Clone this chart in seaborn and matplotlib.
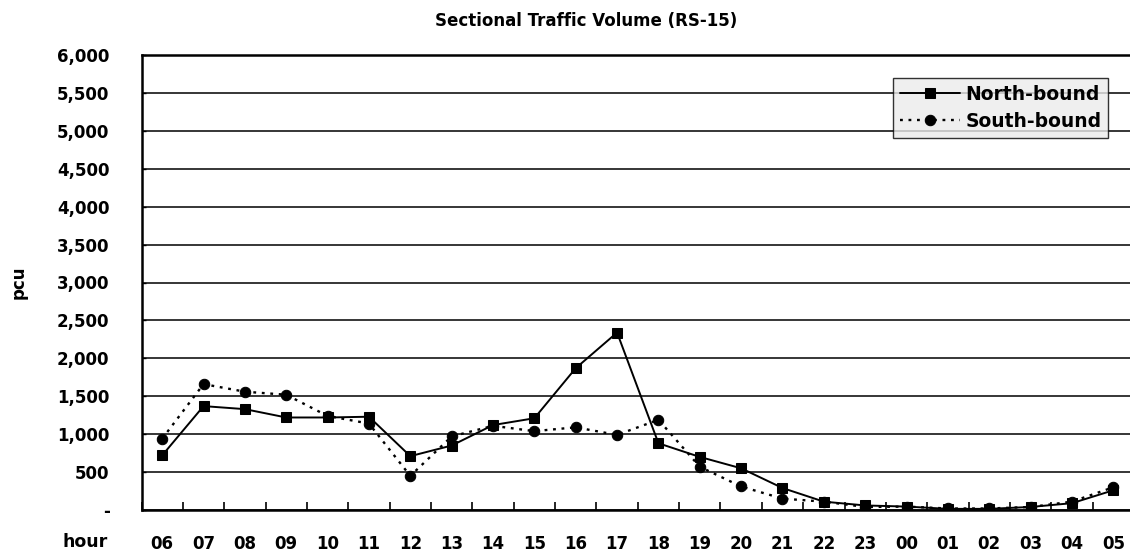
import matplotlib
matplotlib.use("Agg")
import matplotlib.pyplot as plt
import matplotlib.ticker as mticker
import seaborn as sns
import pandas as pd
import numpy as np

hours = ["06", "07", "08", "09", "10", "11", "12", "13", "14", "15", "16", "17",
         "18", "19", "20", "21", "22", "23", "00", "01", "02", "03", "04", "05"]
north = [720, 1370, 1330, 1220, 1220, 1230, 710, 850, 1120, 1210, 1870, 2340,
         880, 700, 550, 290, 110, 60, 45, 15, 15, 40, 90, 260]
south = [940, 1660, 1560, 1520, 1240, 1140, 450, 970, 1110, 1040, 1090, 990,
         1190, 570, 310, 150, 110, 40, 45, 20, 20, 40, 110, 300]

sns.set_theme(style="white")
plt.rcParams['font.family'] = ['DejaVu Sans']
plt.rcParams['text.color'] = 'black'
plt.rcParams['xtick.color'] = 'black'
plt.rcParams['ytick.color'] = 'black'
plt.rcParams['axes.labelcolor'] = 'black'

W, H = 1130, 555
fig = plt.figure(figsize=(W / 100, H / 100), dpi=100)
left, right, top, bottom = 141.5, 1134, 55, 510
ax = fig.add_axes([left / W, 1 - bottom / H, (right - left) / W, (bottom - top) / H])

df = pd.DataFrame({"pos": np.arange(len(hours)), "north": north, "south": south})

sns.lineplot(data=df, x="pos", y="north", ax=ax, color="black", linewidth=1.4,
             marker="s", markersize=7.5, markeredgecolor="black", label="North-bound")
sns.lineplot(data=df, x="pos", y="south", ax=ax, color="black", linewidth=1.7,
             linestyle=(0, (1.2, 2.4)), marker="o", markersize=7.5,
             markeredgecolor="black", label="South-bound")

ax.set_xlim(-0.5, len(hours) - 0.5)
ax.set_ylim(0, 6000)
ax.set_yticks(np.arange(0, 6001, 500))
ax.yaxis.set_major_formatter(mticker.FuncFormatter(lambda v, p: "-" if v == 0 else f"{int(v):,}"))
ax.yaxis.grid(True, color="black", linewidth=1.1)
ax.set_axisbelow(True)

ax.set_xticks(np.arange(len(hours)))
ax.set_xticklabels(hours)
ax.set_xticks(np.arange(len(hours) + 1) - 0.5, minor=True)
ax.tick_params(axis="x", which="major", length=0, pad=18, labelsize=12, labelcolor="black")
ax.tick_params(axis="x", which="minor", direction="in", length=6, width=1.2, color="black", bottom=True)
ax.tick_params(axis="y", which="major", direction="in", length=3, width=1, color="black",
               left=True, labelsize=12, pad=23, labelcolor="black")
for lab in ax.get_xticklabels() + ax.get_yticklabels():
    lab.set_fontweight("bold")

for name, sp in ax.spines.items():
    sp.set_color("black")
    sp.set_linewidth(1.8)
ax.spines["right"].set_visible(False)

ax.set_xlabel("")
ax.set_ylabel("")
fig.text(19 / W, 1 - 282 / H, "pcu", fontsize=12, fontweight="bold", rotation=90,
         ha="center", va="center", color="black")
fig.text(62 / W, 1 - 542 / H, "hour", fontsize=12.5, fontweight="bold", va="center", ha="left",
         color="black")
fig.text(586 / W, 1 - 21 / H, "Sectional Traffic Volume (RS-15)", fontsize=12,
         fontweight="bold", ha="center", va="center", color="black")

leg = ax.legend(loc="upper right", bbox_to_anchor=((1108 - left) / (right - left), (bottom - 78) / (bottom - top)),
                frameon=True, fancybox=False, fontsize=13.5, handlelength=3.2, handletextpad=0.3,
                borderpad=0.35, labelspacing=0.45, borderaxespad=0)
leg.get_frame().set_edgecolor("black")
leg.get_frame().set_facecolor("#ebebeb")
leg.get_frame().set_linewidth(1.0)
for t in leg.get_texts():
    t.set_fontweight("bold")
    t.set_color("black")

fig.savefig("out.png", dpi=100)
